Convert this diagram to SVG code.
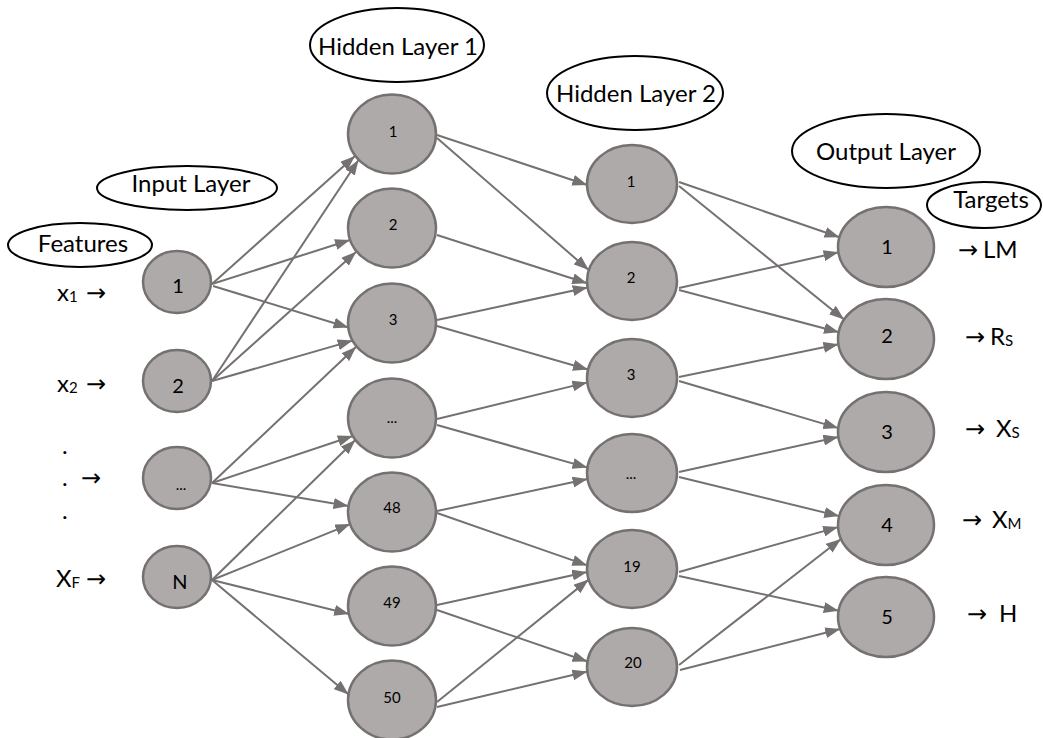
<svg xmlns="http://www.w3.org/2000/svg" width="1043" height="738" viewBox="0 0 1043 738">
  <defs>
    <style>
      text { font-family: Lato, "Liberation Sans", sans-serif; fill: #000; }
      .node ellipse { fill: #aeaaaa; stroke: #767171; stroke-width: 2.5; }
      .node text { text-anchor: middle; }
      .big { font-size: 20px; }
      .small { font-size: 15px; }
      .tag ellipse { fill: #fff; stroke: #000; stroke-width: 2; }
      .tag text { font-size: 24px; text-anchor: middle; }
      .side { font-size: 24px; }
      .sub { font-size: 15px; }
      .arr { font-family: "DejaVu Sans", "Liberation Sans", sans-serif; font-size: 24px; }
      #connectors line { stroke: #767171; stroke-width: 2; marker-end: url(#head); }
    </style>
    <marker id="head" markerUnits="userSpaceOnUse" viewBox="0 0 15 11" markerWidth="15" markerHeight="11" refX="15" refY="5.5" orient="auto">
      <path d="M0,0 L15,5.5 L0,11 z" fill="#767171"/>
    </marker>
  </defs>

  <!-- layer tags -->
  <g id="tag-features" class="tag">
    <ellipse cx="80" cy="245" rx="72" ry="22"/>
    <text x="83" y="252">Features</text>
  </g>
  <g id="tag-input" class="tag">
    <ellipse cx="187" cy="188" rx="90" ry="22"/>
    <text x="191" y="192">Input Layer</text>
  </g>
  <g id="tag-hidden1" class="tag">
    <ellipse cx="397" cy="45" rx="87" ry="37"/>
    <text x="398" y="55">Hidden Layer 1</text>
  </g>
  <g id="tag-hidden2" class="tag">
    <ellipse cx="635" cy="93" rx="88" ry="37"/>
    <text x="636" y="102">Hidden Layer 2</text>
  </g>
  <g id="tag-output" class="tag">
    <ellipse cx="886" cy="151" rx="94" ry="37"/>
    <text x="886" y="160">Output Layer</text>
  </g>
  <g id="tag-targets" class="tag">
    <ellipse cx="984" cy="205" rx="57" ry="23"/>
    <text x="991" y="208">Targets</text>
  </g>

  <!-- feature inputs -->
  <g id="features">
    <text class="side" x="57" y="301">x<tspan class="sub" dy="1">1</tspan><tspan class="arr" x="86" y="301">→</tspan></text>
    <text class="side" x="57" y="392">x<tspan class="sub" dy="1">2</tspan><tspan class="arr" x="86" y="392">→</tspan></text>
    <text class="side" x="62" y="454">.</text>
    <text class="side" x="62" y="486">.<tspan class="arr" x="81" y="486">→</tspan></text>
    <text class="side" x="62" y="519">.</text>
    <text class="side" x="56" y="587">X<tspan class="sub" dy="1">F</tspan><tspan class="arr" x="86" y="587">→</tspan></text>
  </g>

  <!-- target outputs -->
  <g id="targets">
    <text class="side" x="958" y="258"><tspan class="arr">→</tspan><tspan x="983">LM</tspan></text>
    <text class="side" x="965" y="345"><tspan class="arr">→</tspan><tspan x="990">R</tspan><tspan class="sub" dy="1">S</tspan></text>
    <text class="side" x="965" y="437"><tspan class="arr">→</tspan><tspan x="996">X</tspan><tspan class="sub" dy="1">S</tspan></text>
    <text class="side" x="962" y="528"><tspan class="arr">→</tspan><tspan x="992">X</tspan><tspan class="sub" dy="1">M</tspan></text>
    <text class="side" x="967" y="622"><tspan class="arr">→</tspan><tspan x="999">H</tspan></text>
  </g>

  <!-- input layer -->
  <g id="in-1" class="node"><ellipse cx="177" cy="282" rx="34" ry="31"/><text class="big" x="178" y="293">1</text></g>
  <g id="in-2" class="node"><ellipse cx="177" cy="381" rx="34" ry="31"/><text class="big" x="178" y="393">2</text></g>
  <g id="in-dots" class="node"><ellipse cx="177" cy="478" rx="34" ry="31"/><text class="small" x="181" y="490">...</text></g>
  <g id="in-N" class="node"><ellipse cx="177" cy="577" rx="34" ry="31"/><text class="big" x="180" y="589">N</text></g>

  <!-- hidden layer 1 -->
  <g id="h1-1" class="node"><ellipse cx="392" cy="134" rx="44" ry="39.5"/><text class="small" x="393" y="137">1</text></g>
  <g id="h1-2" class="node"><ellipse cx="392" cy="228" rx="44" ry="39.5"/><text class="small" x="393" y="230">2</text></g>
  <g id="h1-3" class="node"><ellipse cx="392" cy="323" rx="44" ry="39.5"/><text class="small" x="393" y="325">3</text></g>
  <g id="h1-dots" class="node"><ellipse cx="392" cy="418" rx="44" ry="39.5"/><text class="small" x="392" y="423">...</text></g>
  <g id="h1-48" class="node"><ellipse cx="392" cy="512" rx="44" ry="39.5"/><text class="small" x="392" y="513">48</text></g>
  <g id="h1-49" class="node"><ellipse cx="392" cy="606" rx="44" ry="39.5"/><text class="small" x="392" y="608">49</text></g>
  <g id="h1-50" class="node"><ellipse cx="392" cy="700" rx="44" ry="39.5"/><text class="small" x="392" y="703">50</text></g>

  <!-- hidden layer 2 -->
  <g id="h2-1" class="node"><ellipse cx="632" cy="184" rx="45" ry="39"/><text class="small" x="631" y="187">1</text></g>
  <g id="h2-2" class="node"><ellipse cx="632" cy="281" rx="45" ry="39"/><text class="small" x="631" y="283">2</text></g>
  <g id="h2-3" class="node"><ellipse cx="632" cy="378" rx="45" ry="39"/><text class="small" x="631" y="380">3</text></g>
  <g id="h2-dots" class="node"><ellipse cx="632" cy="473" rx="45" ry="39"/><text class="small" x="631" y="479">...</text></g>
  <g id="h2-19" class="node"><ellipse cx="632" cy="569" rx="45" ry="39"/><text class="small" x="632" y="572">19</text></g>
  <g id="h2-20" class="node"><ellipse cx="632" cy="667" rx="45" ry="39"/><text class="small" x="633" y="668">20</text></g>

  <!-- output layer -->
  <g id="out-1" class="node"><ellipse cx="886" cy="247" rx="48" ry="40"/><text class="big" x="887" y="254">1</text></g>
  <g id="out-2" class="node"><ellipse cx="886" cy="339" rx="48" ry="40"/><text class="big" x="887" y="343">2</text></g>
  <g id="out-3" class="node"><ellipse cx="886" cy="432" rx="48" ry="40"/><text class="big" x="887" y="439">3</text></g>
  <g id="out-4" class="node"><ellipse cx="886" cy="525" rx="48" ry="40"/><text class="big" x="887" y="532">4</text></g>
  <g id="out-5" class="node"><ellipse cx="886" cy="617" rx="48" ry="40"/><text class="big" x="887" y="624">5</text></g>

  <g id="connectors">
    <!-- input layer to hidden layer 1 -->
    <line x1="212" y1="284" x2="355" y2="156"/>
    <line x1="212" y1="284" x2="350" y2="240"/>
    <line x1="213" y1="286" x2="348.5" y2="327.5"/>
    <line x1="212" y1="381" x2="358.5" y2="160"/>
    <line x1="212" y1="381" x2="356.3" y2="251.7"/>
    <line x1="212" y1="381" x2="352.6" y2="340.6"/>
    <line x1="212" y1="483" x2="356.2" y2="346.8"/>
    <line x1="212" y1="483" x2="352.8" y2="436"/>
    <line x1="212" y1="483" x2="348.5" y2="506"/>
    <line x1="212" y1="580" x2="355.3" y2="440"/>
    <line x1="212" y1="580" x2="350.3" y2="524.1"/>
    <line x1="212" y1="580" x2="349.2" y2="614"/>
    <line x1="212" y1="580" x2="348.6" y2="694.6"/>
    <!-- hidden layer 1 to hidden layer 2 -->
    <line x1="437" y1="135" x2="587.3" y2="185"/>
    <line x1="437" y1="138" x2="588.7" y2="270"/>
    <line x1="437" y1="235" x2="587.2" y2="283.3"/>
    <line x1="437" y1="320" x2="587.7" y2="287.4"/>
    <line x1="437" y1="326" x2="588" y2="369.5"/>
    <line x1="437" y1="419" x2="587.4" y2="382.4"/>
    <line x1="437" y1="425" x2="587.5" y2="467.6"/>
    <line x1="437" y1="511" x2="587.6" y2="479"/>
    <line x1="437" y1="513" x2="587.3" y2="565.4"/>
    <line x1="437" y1="605" x2="587.2" y2="571.9"/>
    <line x1="437" y1="610" x2="587.5" y2="661.5"/>
    <line x1="437" y1="702" x2="588.6" y2="579.6"/>
    <line x1="437" y1="707" x2="587.4" y2="671.5"/>
    <!-- hidden layer 2 to output layer -->
    <line x1="679" y1="182" x2="839.5" y2="237.3"/>
    <line x1="679" y1="186" x2="844.1" y2="319.5"/>
    <line x1="679" y1="288" x2="838.6" y2="252.3"/>
    <line x1="679" y1="290" x2="839" y2="332.2"/>
    <line x1="679" y1="377" x2="838.5" y2="344.3"/>
    <line x1="679" y1="381" x2="838.3" y2="428.1"/>
    <line x1="679" y1="472" x2="838.4" y2="436.9"/>
    <line x1="679" y1="477" x2="839.2" y2="516.1"/>
    <line x1="679" y1="572" x2="838.1" y2="527.1"/>
    <line x1="679" y1="576" x2="838.7" y2="610.8"/>
    <line x1="679" y1="665" x2="841" y2="539"/>
    <line x1="680" y1="670" x2="840.2" y2="629"/>
  </g>
</svg>
